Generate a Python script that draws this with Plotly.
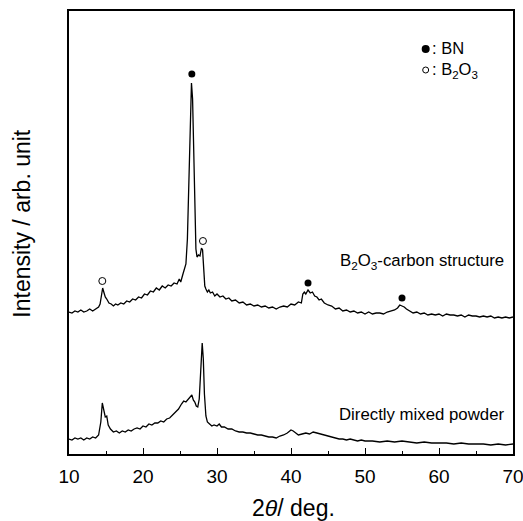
import plotly.graph_objects as go

# ---- data (intensity in arbitrary units, curves already vertically offset) ----
two_theta_upper = [10.0, 10.4, 10.8, 11.2, 11.6, 12.0, 12.4, 12.8, 13.2, 13.6, 14.0, 14.2, 14.4, 14.55, 14.7, 14.9,
                   15.1, 15.4, 15.7, 16.0, 16.3, 16.6, 17.0, 17.4, 17.8, 18.2, 18.6, 19.0, 19.4, 19.8, 20.2, 20.6,
                   21.0, 21.4, 21.8, 22.2, 22.6, 23.0, 23.4, 23.8, 24.2, 24.6, 24.9, 25.1, 25.4, 25.6, 25.8, 26.0,
                   26.2, 26.4, 26.55, 26.7, 26.85, 27.0, 27.15, 27.3, 27.5, 27.7, 27.9, 28.05, 28.2, 28.35, 28.5,
                   28.7, 28.9, 29.1, 29.4, 29.7, 30.0, 30.4, 30.8, 31.2, 31.6, 32.0, 32.5, 33.0, 33.5, 34.0, 34.5,
                   35.0, 35.5, 36.0, 36.5, 37.0, 37.5, 38.0, 38.5, 39.0, 39.5, 40.0, 40.5, 41.0, 41.4, 41.6, 41.8,
                   42.0, 42.3, 42.6, 42.9, 43.2, 43.5, 43.8, 44.1, 44.5, 45.0, 45.5, 46.0, 46.5, 47.0, 47.5, 48.0,
                   48.5, 49.0, 49.5, 50.0, 50.5, 51.0, 51.5, 52.0, 52.5, 53.0, 53.5, 54.0, 54.4, 54.7, 55.0, 55.3,
                   55.6, 56.0, 56.5, 57.0, 57.5, 58.0, 58.5, 59.0, 59.5, 60.0, 60.5, 61.0, 61.5, 62.0, 62.5, 63.0,
                   63.5, 64.0, 64.5, 65.0, 65.5, 66.0, 66.5, 67.0, 67.5, 68.0, 68.5, 69.0, 69.5, 70.0]
intensity_upper = [142, 141, 143, 142, 144, 142, 143, 145, 143, 145, 147, 150, 160, 166, 162, 157,
                   155, 151, 150, 148, 150, 149, 151, 150, 153, 152, 155, 154, 157, 156, 160, 159,
                   163, 162, 166, 164, 168, 166, 169, 168, 171, 170, 175, 172, 180, 185, 190, 215,
                   270, 340, 371, 355, 300, 240, 205, 197, 199, 198, 206, 204, 190, 168, 165,
                   162, 164, 161, 162, 158, 160, 157, 158, 155, 156, 153, 154, 151, 152, 149, 150,
                   148, 149, 147, 148, 146, 147, 145, 147, 148, 147, 150, 149, 152, 151, 160, 162,
                   160, 164, 161, 162, 158, 157, 154, 155, 151, 149, 148, 145, 146, 143, 144, 142,
                   143, 141, 142, 140, 142, 140, 141, 141, 140, 142, 143, 144, 146, 149, 148, 147,
                   145, 143, 141, 142, 140, 141, 139, 140, 139, 140, 138, 140, 139, 139, 138, 139,
                   137, 139, 138, 138, 137, 138, 137, 138, 136, 137, 136, 137, 136, 137]

two_theta_lower = [10.0, 10.4, 10.8, 11.2, 11.6, 12.0, 12.4, 12.8, 13.2, 13.6, 14.0, 14.3, 14.5, 14.7, 14.9, 15.1,
                   15.3, 15.6, 16.0, 16.4, 16.8, 17.2, 17.6, 18.0, 18.4, 18.8, 19.2, 19.6, 20.0, 20.4, 20.8, 21.2,
                   21.6, 22.0, 22.4, 22.8, 23.2, 23.6, 24.0, 24.4, 24.8, 25.2, 25.5, 25.8, 26.1, 26.4, 26.6, 26.8,
                   27.0, 27.2, 27.4, 27.6, 27.8, 28.0, 28.15, 28.3, 28.5, 28.7, 29.0, 29.3, 29.6, 30.0, 30.3, 30.6,
                   31.0, 31.5, 32.0, 32.5, 33.0, 33.5, 34.0, 34.5, 35.0, 35.5, 36.0, 36.5, 37.0, 37.5, 38.0, 38.5,
                   39.0, 39.5, 40.0, 40.3, 40.6, 41.0, 41.5, 42.0, 42.5, 43.0, 43.5, 44.0, 44.5, 45.0, 45.5, 46.0,
                   46.5, 47.0, 47.5, 48.0, 48.5, 49.0, 49.5, 50.0, 51.0, 52.0, 53.0, 54.0, 55.0, 56.0, 57.0, 58.0,
                   59.0, 60.0, 61.0, 62.0, 63.0, 64.0, 65.0, 66.0, 67.0, 68.0, 69.0, 70.0]
intensity_lower = [15, 14, 16, 15, 16, 14, 16, 15, 17, 16, 19, 32, 51, 45, 37, 38,
                   29, 25, 22, 23, 21, 23, 22, 24, 23, 25, 26, 25, 28, 27, 30, 29,
                   31, 31, 33, 32, 35, 36, 39, 42, 45, 50, 53, 52, 55, 57, 59, 54,
                   52, 48, 47, 55, 85, 111, 95, 60, 38, 32, 30, 28, 29, 28, 30, 27,
                   27, 25, 25, 23, 22, 22, 21, 21, 20, 19, 19, 18, 17, 17, 16, 18,
                   19, 21, 24, 23, 21, 19, 20, 21, 20, 22, 21, 20, 19, 18, 17, 16,
                   15, 15, 14, 15, 14, 13, 14, 13, 13, 12, 13, 12, 13, 12, 11, 12,
                   11, 11, 11, 10, 11, 10, 10, 10, 9, 10, 9, 10]

bn_peaks_x = [26.6, 42.3, 55.0]
bn_peaks_y = [380, 171, 156]
b2o3_peaks_x = [14.5, 28.1]
b2o3_peaks_y = [173, 213]
key_x = [58.2]
key_bn_y = [405]
key_b2o3_y = [384]

label_upper = "B<sub>2</sub>O<sub>3</sub>-carbon structure"
label_lower = "Directly mixed powder"
legend_text = ": BN<br>: B<sub>2</sub>O<sub>3</sub>"
x_title = "2<i>θ</i>/ deg."
y_title = "Intensity / arb. unit"
x_tickvals = [10, 20, 30, 40, 50, 60, 70]

FONT = "Arial, Liberation Sans, sans-serif"

fig = go.Figure()
fig.add_trace(go.Scatter(x=two_theta_upper, y=intensity_upper, mode="lines",
                         line=dict(color="black", width=1.3), showlegend=False))
fig.add_trace(go.Scatter(x=two_theta_lower, y=intensity_lower, mode="lines",
                         line=dict(color="black", width=1.3), showlegend=False))
filled = dict(symbol="circle", size=7, color="black", line=dict(color="black", width=0))
hollow = dict(symbol="circle-open", size=7, color="black", line=dict(color="black", width=1))
fig.add_trace(go.Scatter(x=bn_peaks_x, y=bn_peaks_y, mode="markers", marker=filled, showlegend=False))
fig.add_trace(go.Scatter(x=key_x, y=key_bn_y, mode="markers", marker=dict(filled, size=8), showlegend=False))
fig.add_trace(go.Scatter(x=b2o3_peaks_x, y=b2o3_peaks_y, mode="markers", marker=hollow, showlegend=False))
fig.add_trace(go.Scatter(x=key_x, y=key_b2o3_y, mode="markers", marker=dict(hollow, size=6), showlegend=False))

anns = [
    dict(x=58.75, y=394, text=legend_text, xanchor="left", yanchor="middle", align="left",
         showarrow=False, font=dict(size=16.5, color="black", family=FONT)),
    dict(x=69.0, y=193, text=label_upper, xanchor="right", yanchor="middle", showarrow=False,
         font=dict(size=16.8, color="black", family=FONT)),
    dict(x=69.0, y=40, text=label_lower, xanchor="right", yanchor="middle", showarrow=False,
         font=dict(size=16.8, color="black", family=FONT)),
    dict(x=0.505, y=-0.122, xref="paper", yref="paper", text=x_title, xanchor="center", yanchor="middle",
         showarrow=False, font=dict(size=23, color="black", family=FONT)),
    dict(x=-0.106, y=0.522, xref="paper", yref="paper", text=y_title, textangle=-90,
         xanchor="center", yanchor="middle", showarrow=False,
         font=dict(size=23, color="black", family=FONT)),
]

fig.update_layout(
    width=523, height=521,
    margin=dict(l=69, r=10, t=11, b=67, autoexpand=False),
    paper_bgcolor="white", plot_bgcolor="white",
    annotations=anns,
    xaxis=dict(range=[10, 70], tickvals=x_tickvals, ticks="inside", ticklen=6, tickwidth=1.2,
               tickcolor="black", showline=True, linecolor="black", linewidth=1.5, mirror=True,
               showgrid=False, zeroline=False, automargin=False, ticklabelstandoff=4,
               ticklabeloverflow="allow",
               tickfont=dict(size=19, color="black", family=FONT),
               minor=dict(tickvals=[15, 25, 35, 45, 55, 65], ticks="inside", ticklen=3,
                          tickcolor="black", tickwidth=1.2)),
    yaxis=dict(range=[0, 443], showticklabels=False, ticks="", showline=True, linecolor="black",
               linewidth=1.5, mirror=True, showgrid=False, zeroline=False, automargin=False),
)

fig.write_html("out.html", config={"displayModeBar": False},
               post_script="document.body.style.margin='0';document.body.style.overflow='hidden';")
